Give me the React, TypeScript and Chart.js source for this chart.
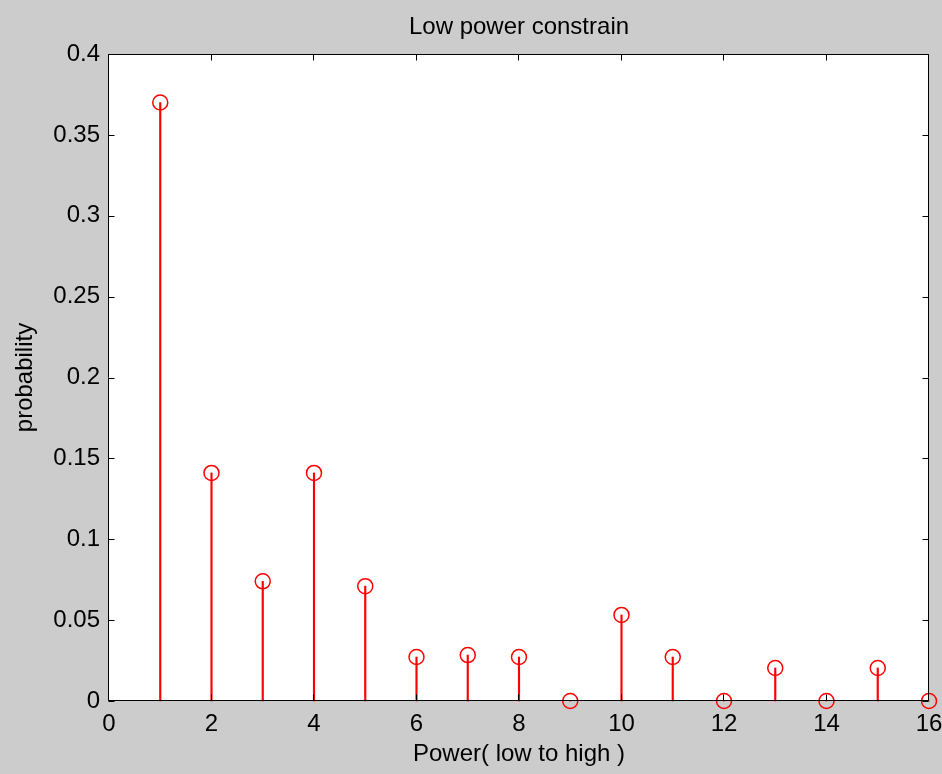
import React, { useEffect, useRef } from "react";
import { Chart, registerables } from "chart.js";

Chart.register(...registerables);

// ---- data ----
const powerLevels = [1, 2, 3, 4, 5, 6, 7, 8, 9, 10, 11, 12, 13, 14, 15, 16];
const probabilities = [
  0.37, 0.141, 0.074, 0.141, 0.071, 0.0272, 0.0284, 0.0272, 0, 0.0532, 0.0272, 0,
  0.0204, 0, 0.0204, 0,
];
const xTickValues = [0, 2, 4, 6, 8, 10, 12, 14, 16];
const yTickValues = [0, 0.05, 0.1, 0.15, 0.2, 0.25, 0.3, 0.35, 0.4];
const chartTitle = "Low power constrain";
const xAxisTitle = "Power( low to high )";
const yAxisTitle = "probability";

const FONT = "'Liberation Sans', Arial, sans-serif";
const RED = "#ff0000";

const framePlugin = {
  id: "matlabFrame",
  beforeDraw(chart: any) {
    const { ctx, width, height, chartArea: a } = chart;
    ctx.save();
    ctx.fillStyle = "#cccccc";
    ctx.fillRect(0, 0, width, height);
    ctx.fillStyle = "#ffffff";
    ctx.fillRect(a.left, a.top, a.right - a.left, a.bottom - a.top);
    ctx.restore();
  },
  afterDraw(chart: any) {
    const { ctx, chartArea: a, scales } = chart;
    const xs = scales.x;
    const ys = scales.y;
    const tick = 6;
    ctx.save();
    ctx.strokeStyle = "#000000";
    ctx.lineWidth = 1;
    ctx.beginPath();
    const L = Math.round(a.left) - 0.5;
    const R = Math.round(a.right) - 0.5;
    const T = Math.round(a.top) + 0.5;
    const B = Math.round(a.bottom) - 0.5;
    ctx.rect(L, T, R - L, B - T);
    xTickValues.forEach((v) => {
      const px = Math.round(xs.getPixelForValue(v)) - 0.5;
      ctx.moveTo(px, B);
      ctx.lineTo(px, B - tick);
      ctx.moveTo(px, T);
      ctx.lineTo(px, T + tick);
    });
    yTickValues.forEach((v) => {
      const py = Math.round(ys.getPixelForValue(v)) + 0.5;
      ctx.moveTo(L, py);
      ctx.lineTo(L + tick, py);
      ctx.moveTo(R, py);
      ctx.lineTo(R - tick, py);
    });
    ctx.stroke();
    ctx.restore();
  },
};

export default function App() {
  const canvasRef = useRef<HTMLCanvasElement | null>(null);

  useEffect(() => {
    document.body.style.margin = "0";
    const canvas = canvasRef.current;
    if (!canvas) return;
    const points = powerLevels.map((x, i) => ({ x, y: probabilities[i] }));
    const chart = new Chart(canvas, {
      type: "scatter",
      data: {
        datasets: [
          {
            type: "scatter",
            data: points,
            pointStyle: "circle",
            pointRadius: 7.5,
            pointHoverRadius: 7.5,
            pointBorderWidth: 1.5,
            pointBorderColor: RED,
            pointBackgroundColor: "rgba(0,0,0,0)",
            showLine: false,
            clip: false,
          } as any,
          {
            type: "bar",
            data: points,
            backgroundColor: RED,
            borderWidth: 0,
            barThickness: 1.5,
            grouped: false,
            clip: false,
          } as any,
        ],
      },
      options: {
        responsive: false,
        animation: false,
        events: [],
        layout: { padding: { left: 0, right: 13, top: 0, bottom: 0 } },
        plugins: {
          legend: { display: false },
          tooltip: { enabled: false },
          title: {
            display: true,
            fullSize: false,
            text: chartTitle,
            color: "#000000",
            font: { family: FONT, size: 24, weight: "normal" as any, lineHeight: 1.2 },
            padding: { top: 13, bottom: 12.2 },
          },
        },
        scales: {
          x: {
            type: "linear",
            min: 0,
            max: 16,
            offset: false,
            afterFit(scale: any) {
              scale.height = 73;
              scale.paddingLeft = 0;
              scale.paddingRight = 0;
            },
            afterBuildTicks(scale: any) {
              scale.ticks = xTickValues.map((v) => ({ value: v }));
            },
            grid: { display: false, drawTicks: false },
            border: { display: false },
            ticks: {
              color: "#000000",
              padding: 9,
              maxRotation: 0,
              autoSkip: false,
              font: { family: FONT, size: 24 },
            },
            title: {
              display: true,
              text: xAxisTitle,
              color: "#000000",
              font: { family: FONT, size: 24, lineHeight: 1.2 },
              padding: { top: 0, bottom: 5.6 },
            },
          },
          y: {
            type: "linear",
            min: 0,
            max: 0.4,
            afterFit(scale: any) {
              scale.width = 109;
            },
            afterBuildTicks(scale: any) {
              scale.ticks = yTickValues.map((v) => ({ value: v }));
            },
            grid: { display: false, drawTicks: false },
            border: { display: false },
            ticks: {
              color: "#000000",
              padding: 9,
              autoSkip: false,
              font: { family: FONT, size: 24 },
              callback: (v: any) => String(Math.round(Number(v) * 100) / 100),
            },
            title: {
              display: true,
              text: yAxisTitle,
              color: "#000000",
              font: { family: FONT, size: 24, lineHeight: 1.2 },
              padding: { top: 11, bottom: 0 },
            },
          },
        },
      },
      plugins: [framePlugin],
    });
    return () => chart.destroy();
  }, []);

  return (
    <div style={{ position: "fixed", left: 0, top: 0, width: 942, height: 774 }}>
      <canvas ref={canvasRef} width={942} height={774} style={{ width: 942, height: 774, display: "block" }} />
    </div>
  );
}
